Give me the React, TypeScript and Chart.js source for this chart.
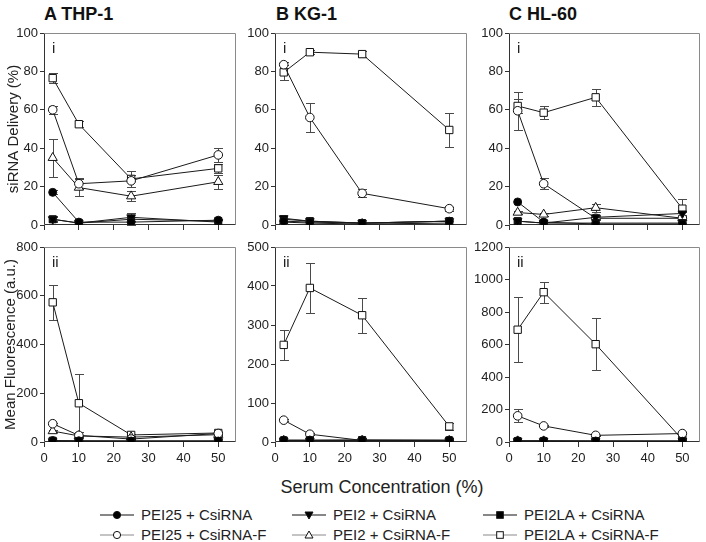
import React, { useEffect, useRef } from 'react';
import { Chart, registerables } from 'chart.js';

Chart.register(...registerables);

const FONT = "'Liberation Sans', Arial, Helvetica, sans-serif";

// ---- shared axes / categories ----
const serumConc = [2.5, 10, 25, 50];
const xTickValues = [0, 10, 20, 30, 40, 50];
const deliveryTicks = [0, 20, 40, 60, 80, 100];
const thp1FluorTicks = [0, 200, 400, 600, 800];
const kg1FluorTicks = [0, 100, 200, 300, 400, 500];
const hl60FluorTicks = [0, 200, 400, 600, 800, 1000, 1200];

const seriesLabels = [
  'PEI25 + CsiRNA',
  'PEI25 + CsiRNA-F',
  'PEI2 + CsiRNA',
  'PEI2 + CsiRNA-F',
  'PEI2LA + CsiRNA',
  'PEI2LA + CsiRNA-F',
];

// ---- A THP-1: siRNA delivery (%) ----
const thp1Del_PEI25_C = [17, 1.5, 1.5, 2.5];
const thp1Del_PEI25_C_err = [1, 0, 0, 0];
const thp1Del_PEI25_F = [60, 21.5, 23, 36.5];
const thp1Del_PEI25_F_err = [2, 3, 3, 3.5];
const thp1Del_PEI2_C = [3, 1, 4, 1.5];
const thp1Del_PEI2_C_err = [1, 0, 2, 0];
const thp1Del_PEI2_F = [35, 19.5, 15, 22.5];
const thp1Del_PEI2_F_err = [10, 4.5, 2.5, 3.5];
const thp1Del_PEI2LA_C = [3, 1, 3, 2];
const thp1Del_PEI2LA_C_err = [1.5, 0, 3.5, 0];
const thp1Del_PEI2LA_F = [76.5, 52.5, 24, 29.5];
const thp1Del_PEI2LA_F_err = [2.5, 1.5, 4, 2.5];

// ---- B KG-1: siRNA delivery (%) ----
const kg1Del_PEI25_C = [2, 1.5, 1, 2];
const kg1Del_PEI25_C_err = [0, 0, 0, 0];
const kg1Del_PEI25_F = [83.5, 56, 16.5, 8.5];
const kg1Del_PEI25_F_err = [1.5, 7.5, 2, 1];
const kg1Del_PEI2_C = [3.5, 2, 1, 2];
const kg1Del_PEI2_C_err = [0, 0, 0, 0];
const kg1Del_PEI2_F = [1.5, 1, 0.5, 1];
const kg1Del_PEI2_F_err = [0, 0, 0, 0];
const kg1Del_PEI2LA_C = [3, 2, 1, 2];
const kg1Del_PEI2LA_C_err = [0, 0, 0, 0];
const kg1Del_PEI2LA_F = [79.5, 90, 89, 49.5];
const kg1Del_PEI2LA_F_err = [4, 1, 1.5, 9];

// ---- C HL-60: siRNA delivery (%) ----
const hl60Del_PEI25_C = [12, 1.5, 0.5, 0.5];
const hl60Del_PEI25_C_err = [0, 0, 0, 0];
const hl60Del_PEI25_F = [59.5, 21.5, 3.5, 3.5];
const hl60Del_PEI25_F_err = [10, 3, 1, 1];
const hl60Del_PEI2_C = [2, 1, 4, 6];
const hl60Del_PEI2_C_err = [0, 0, 1, 1];
const hl60Del_PEI2_F = [6.5, 5.5, 9, 3.5];
const hl60Del_PEI2_F_err = [1, 1, 2, 1];
const hl60Del_PEI2LA_C = [2, 1, 1, 1];
const hl60Del_PEI2LA_C_err = [0, 0, 0, 0];
const hl60Del_PEI2LA_F = [62, 58.5, 66.5, 8.5];
const hl60Del_PEI2LA_F_err = [3.5, 3.5, 4.5, 5];

// ---- A THP-1: mean fluorescence (a.u.) ----
const thp1Fl_PEI25_C = [6, 5, 4, 4];
const thp1Fl_PEI25_C_err = [0, 0, 0, 0];
const thp1Fl_PEI25_F = [75, 27, 12, 35];
const thp1Fl_PEI25_F_err = [5, 3, 2, 3];
const thp1Fl_PEI2_C = [3, 3, 3, 3];
const thp1Fl_PEI2_C_err = [0, 0, 0, 0];
const thp1Fl_PEI2_F = [45, 25, 20, 30];
const thp1Fl_PEI2_F_err = [4, 3, 2, 3];
const thp1Fl_PEI2LA_C = [5, 4, 4, 4];
const thp1Fl_PEI2LA_C_err = [0, 0, 0, 0];
const thp1Fl_PEI2LA_F = [573, 159, 29, 37];
const thp1Fl_PEI2LA_F_err = [72, 120, 5, 5];

// ---- B KG-1: mean fluorescence (a.u.) ----
const kg1Fl_PEI25_C = [5, 5, 5, 5];
const kg1Fl_PEI25_C_err = [0, 0, 0, 0];
const kg1Fl_PEI25_F = [56, 20, 4, 3];
const kg1Fl_PEI25_F_err = [3, 2, 1, 1];
const kg1Fl_PEI2_C = [3, 3, 3, 3];
const kg1Fl_PEI2_C_err = [0, 0, 0, 0];
const kg1Fl_PEI2_F = [3, 3, 3, 3];
const kg1Fl_PEI2_F_err = [0, 0, 0, 0];
const kg1Fl_PEI2LA_C = [4, 4, 5, 4];
const kg1Fl_PEI2LA_C_err = [0, 0, 0, 0];
const kg1Fl_PEI2LA_F = [249, 395, 325, 40];
const kg1Fl_PEI2LA_F_err = [38, 65, 45, 10];

// ---- C HL-60: mean fluorescence (a.u.) ----
const hl60Fl_PEI25_C = [8, 8, 6, 5];
const hl60Fl_PEI25_C_err = [0, 0, 0, 0];
const hl60Fl_PEI25_F = [161, 99, 41, 52];
const hl60Fl_PEI25_F_err = [40, 5, 5, 5];
const hl60Fl_PEI2_C = [5, 5, 5, 5];
const hl60Fl_PEI2_C_err = [0, 0, 0, 0];
const hl60Fl_PEI2_F = [5, 5, 5, 5];
const hl60Fl_PEI2_F_err = [0, 0, 0, 0];
const hl60Fl_PEI2LA_C = [5, 5, 5, 5];
const hl60Fl_PEI2LA_C_err = [0, 0, 0, 0];
const hl60Fl_PEI2LA_F = [691, 922, 602, 15];
const hl60Fl_PEI2LA_F_err = [200, 65, 160, 10];

// ---- marker styles per series ----
const seriesStyles = [
  { pointStyle: 'circle', radius: 4, fill: '#000000', rotation: 0 },
  { pointStyle: 'circle', radius: 4.3, fill: '#ffffff', rotation: 0 },
  { pointStyle: 'triangle', radius: 5, fill: '#000000', rotation: 180 },
  { pointStyle: 'triangle', radius: 5.3, fill: '#ffffff', rotation: 0 },
  { pointStyle: 'rect', radius: 5, fill: '#000000', rotation: 0 },
  { pointStyle: 'rect', radius: 5.2, fill: '#ffffff', rotation: 0 },
];

type PanelDef = {
  key: string;
  left: number;
  top: number;
  width: number;
  height: number;
  axisWidth: number;
  xAxisHeight: number;
  yMax: number;
  yTicks: number[];
  series: number[][];
  errors: number[][];
  label: string;
  yTitle?: string;
  yTitlePad?: number;
  showXLabels: boolean;
};

const TOP_ROW = { top: 23, height: 216, xAxisHeight: 14 };
const BOTTOM_ROW = { top: 237, height: 231, xAxisHeight: 26 };

const panels: PanelDef[] = [
  {
    key: 'a1', left: 0, width: 242, axisWidth: 44, ...TOP_ROW,
    yMax: 100, yTicks: deliveryTicks, label: 'i', yTitle: 'siRNA Delivery (%)', yTitlePad: 5, showXLabels: false,
    series: [thp1Del_PEI25_C, thp1Del_PEI25_F, thp1Del_PEI2_C, thp1Del_PEI2_F, thp1Del_PEI2LA_C, thp1Del_PEI2LA_F],
    errors: [thp1Del_PEI25_C_err, thp1Del_PEI25_F_err, thp1Del_PEI2_C_err, thp1Del_PEI2_F_err, thp1Del_PEI2LA_C_err, thp1Del_PEI2LA_F_err],
  },
  {
    key: 'b1', left: 233, width: 240, axisWidth: 42, ...TOP_ROW,
    yMax: 100, yTicks: deliveryTicks, label: 'i', showXLabels: false,
    series: [kg1Del_PEI25_C, kg1Del_PEI25_F, kg1Del_PEI2_C, kg1Del_PEI2_F, kg1Del_PEI2LA_C, kg1Del_PEI2LA_F],
    errors: [kg1Del_PEI25_C_err, kg1Del_PEI25_F_err, kg1Del_PEI2_C_err, kg1Del_PEI2_F_err, kg1Del_PEI2LA_C_err, kg1Del_PEI2LA_F_err],
  },
  {
    key: 'c1', left: 467, width: 239, axisWidth: 42, ...TOP_ROW,
    yMax: 100, yTicks: deliveryTicks, label: 'i', showXLabels: false,
    series: [hl60Del_PEI25_C, hl60Del_PEI25_F, hl60Del_PEI2_C, hl60Del_PEI2_F, hl60Del_PEI2LA_C, hl60Del_PEI2LA_F],
    errors: [hl60Del_PEI25_C_err, hl60Del_PEI25_F_err, hl60Del_PEI2_C_err, hl60Del_PEI2_F_err, hl60Del_PEI2LA_C_err, hl60Del_PEI2LA_F_err],
  },
  {
    key: 'a2', left: 0, width: 242, axisWidth: 44, ...BOTTOM_ROW,
    yMax: 800, yTicks: thp1FluorTicks, label: 'ii', yTitle: 'Mean Fluorescence (a.u.)', yTitlePad: 2, showXLabels: true,
    series: [thp1Fl_PEI25_C, thp1Fl_PEI25_F, thp1Fl_PEI2_C, thp1Fl_PEI2_F, thp1Fl_PEI2LA_C, thp1Fl_PEI2LA_F],
    errors: [thp1Fl_PEI25_C_err, thp1Fl_PEI25_F_err, thp1Fl_PEI2_C_err, thp1Fl_PEI2_F_err, thp1Fl_PEI2LA_C_err, thp1Fl_PEI2LA_F_err],
  },
  {
    key: 'b2', left: 233, width: 240, axisWidth: 42, ...BOTTOM_ROW,
    yMax: 500, yTicks: kg1FluorTicks, label: 'ii', showXLabels: true,
    series: [kg1Fl_PEI25_C, kg1Fl_PEI25_F, kg1Fl_PEI2_C, kg1Fl_PEI2_F, kg1Fl_PEI2LA_C, kg1Fl_PEI2LA_F],
    errors: [kg1Fl_PEI25_C_err, kg1Fl_PEI25_F_err, kg1Fl_PEI2_C_err, kg1Fl_PEI2_F_err, kg1Fl_PEI2LA_C_err, kg1Fl_PEI2LA_F_err],
  },
  {
    key: 'c2', left: 467, width: 239, axisWidth: 42, ...BOTTOM_ROW,
    yMax: 1200, yTicks: hl60FluorTicks, label: 'ii', showXLabels: true,
    series: [hl60Fl_PEI25_C, hl60Fl_PEI25_F, hl60Fl_PEI2_C, hl60Fl_PEI2_F, hl60Fl_PEI2LA_C, hl60Fl_PEI2LA_F],
    errors: [hl60Fl_PEI25_C_err, hl60Fl_PEI25_F_err, hl60Fl_PEI2_C_err, hl60Fl_PEI2_F_err, hl60Fl_PEI2LA_C_err, hl60Fl_PEI2LA_F_err],
  },
];

const panelTitles = [
  { text: 'A THP-1', left: 44 },
  { text: 'B KG-1', left: 276 },
  { text: 'C HL-60', left: 509 },
];

// ---- plugins ----
const frameColorDark = '#333333';
const frameColorLight = '#8a8a8a';

const framePlugin = {
  id: 'panelFrame',
  beforeDatasetsDraw(chart: any) {
    const { ctx, chartArea } = chart;
    const l = Math.round(chartArea.left) + 0.5;
    const r = Math.round(chartArea.right) - 0.5;
    const t = Math.round(chartArea.top) + 0.5;
    const b = Math.round(chartArea.bottom) - 0.5;
    ctx.save();
    ctx.lineWidth = 1;
    ctx.strokeStyle = frameColorLight;
    ctx.beginPath();
    ctx.moveTo(l, t);
    ctx.lineTo(r, t);
    ctx.lineTo(r, b);
    ctx.stroke();
    ctx.strokeStyle = frameColorDark;
    ctx.beginPath();
    ctx.moveTo(l, t);
    ctx.lineTo(l, b);
    ctx.lineTo(r, b);
    ctx.stroke();
    ctx.restore();
  },
};

const errorBarPlugin = {
  id: 'errorBars',
  beforeDatasetsDraw(chart: any) {
    const { ctx } = chart;
    const yScale = chart.scales.y;
    ctx.save();
    ctx.lineWidth = 1;
    ctx.strokeStyle = '#4a4a4a';
    chart.data.datasets.forEach((ds: any, i: number) => {
      const meta = chart.getDatasetMeta(i);
      const errs: number[] = ds.errorBars || [];
      meta.data.forEach((pt: any, j: number) => {
        const e = errs[j];
        if (!e) return;
        const v = ds.data[j].y;
        const x = Math.round(pt.x) + 0.5;
        const yTop = Math.round(yScale.getPixelForValue(v + e)) + 0.5;
        const yBot = Math.round(yScale.getPixelForValue(Math.max(v - e, yScale.min))) + 0.5;
        const cap = 4.5;
        ctx.beginPath();
        ctx.moveTo(x, yTop);
        ctx.lineTo(x, yBot);
        ctx.moveTo(x - cap, yTop);
        ctx.lineTo(x + cap, yTop);
        ctx.moveTo(x - cap, yBot);
        ctx.lineTo(x + cap, yBot);
        ctx.stroke();
      });
    });
    ctx.restore();
  },
};

const panelLabelPlugin = {
  id: 'panelLabel',
  afterDatasetsDraw(chart: any, _args: any, opts: any) {
    const { ctx, chartArea } = chart;
    ctx.save();
    ctx.font = `15px ${FONT}`;
    ctx.fillStyle = '#222222';
    ctx.textAlign = 'left';
    ctx.textBaseline = 'alphabetic';
    ctx.fillText(opts.text, chartArea.left + 8, chartArea.top + 20);
    ctx.restore();
  },
};

const plainNumber = (v: any) => String(v);

function PanelChart({ def }: { def: PanelDef }) {
  const ref = useRef<HTMLCanvasElement>(null);
  useEffect(() => {
    if (!ref.current) return;
    const chart = new Chart(ref.current, {
      type: 'line',
      data: {
        datasets: def.series.map((vals, i) => {
          const st = seriesStyles[i];
          return {
            label: seriesLabels[i],
            data: vals.map((v, j) => ({ x: serumConc[j], y: v })),
            errorBars: def.errors[i],
            borderColor: '#1a1a1a',
            borderWidth: 1,
            fill: false,
            tension: 0,
            pointStyle: st.pointStyle,
            pointRadius: st.radius,
            pointRotation: st.rotation,
            pointBackgroundColor: st.fill,
            pointBorderColor: '#111111',
            pointBorderWidth: 1,
            order: i % 2 === 0 ? 0 : 1,
          } as any;
        }),
      },
      options: {
        animation: false,
        responsive: false,
        devicePixelRatio: 1,
        layout: { padding: { top: 10, right: 3, left: 0, bottom: 0 } },
        plugins: {
          legend: { display: false },
          tooltip: { enabled: false },
          panelLabel: { text: def.label },
        } as any,
        scales: {
          x: {
            type: 'linear',
            min: 0,
            max: 55,
            afterBuildTicks: (s: any) => {
              s.ticks = xTickValues.map((v) => ({ value: v }));
            },
            afterFit: (s: any) => {
              s.height = def.xAxisHeight;
            },
            grid: { drawOnChartArea: false, drawTicks: true, tickLength: 5, color: frameColorDark },
            border: { display: false },
            ticks: {
              display: def.showXLabels,
              font: { family: FONT, size: 13 },
              color: '#222222',
              padding: 4,
              maxRotation: 0,
              autoSkip: false,
              callback: plainNumber,
            },
          },
          y: {
            type: 'linear',
            min: 0,
            max: def.yMax,
            afterBuildTicks: (s: any) => {
              s.ticks = def.yTicks.map((v) => ({ value: v }));
            },
            afterFit: (s: any) => {
              s.width = def.axisWidth;
            },
            grid: { drawOnChartArea: false, drawTicks: true, tickLength: 4, color: frameColorDark },
            border: { display: false },
            ticks: {
              font: { family: FONT, size: 13 },
              color: '#222222',
              padding: 2,
              callback: plainNumber,
            },
            title: def.yTitle
              ? {
                  display: true,
                  text: def.yTitle,
                  font: { family: FONT, size: 15 },
                  color: '#222222',
                  padding: { top: def.yTitlePad ?? 4, bottom: 0 },
                }
              : { display: false },
          },
        } as any,
      },
      plugins: [framePlugin, errorBarPlugin, panelLabelPlugin],
    } as any);
    return () => chart.destroy();
  }, [def]);
  return (
    <canvas
      ref={ref}
      width={def.width}
      height={def.height}
      style={{ position: 'absolute', left: def.left, top: def.top, width: def.width, height: def.height }}
    />
  );
}

const legendIconLeft = [100, 292, 483];
const legendTextLeft = [141, 333, 524];
const legendRowCenter = [515, 534.5];

function LegendMarker({ i }: { i: number }) {
  const st = seriesStyles[i];
  const cx = 17;
  const cy = 7;
  const stroke = '#111111';
  if (st.pointStyle === 'circle') {
    return <circle cx={cx} cy={cy} r={3.6} fill={st.fill} stroke={stroke} strokeWidth={1} />;
  }
  if (st.pointStyle === 'rect') {
    return <rect x={cx - 3.3} y={cy - 3.3} width={6.6} height={6.6} fill={st.fill} stroke={stroke} strokeWidth={1} />;
  }
  const pts = st.rotation === 180
    ? `${cx - 4},${cy - 3} ${cx + 4},${cy - 3} ${cx},${cy + 4}`
    : `${cx - 4},${cy + 3} ${cx + 4},${cy + 3} ${cx},${cy - 4}`;
  return <polygon points={pts} fill={st.fill} stroke={stroke} strokeWidth={1} />;
}

export default function App() {
  return (
    <div
      style={{
        position: 'fixed',
        left: 0,
        top: 0,
        width: 706,
        height: 542,
        background: '#ffffff',
        overflow: 'hidden',
        fontFamily: FONT,
        color: '#111111',
      }}
    >
      {panelTitles.map((t) => (
        <div
          key={t.text}
          style={{ position: 'absolute', left: t.left, top: 5, fontSize: 18, lineHeight: '18px', fontWeight: 'bold', whiteSpace: 'nowrap' }}
        >
          {t.text}
        </div>
      ))}
      {panels.map((p) => (
        <PanelChart key={p.key} def={p} />
      ))}
      <div
        style={{ position: 'absolute', left: 232, width: 300, top: 477, textAlign: 'center', fontSize: 18, lineHeight: '20px', color: '#222' }}
      >
        Serum Concentration (%)
      </div>
      {seriesLabels.map((lab, i) => {
        const col = Math.floor(i / 2);
        const row = i % 2;
        const lineColor = row === 0 ? '#111111' : '#8a8a8a';
        return (
          <React.Fragment key={lab}>
            <svg
              width={34}
              height={14}
              style={{ position: 'absolute', left: legendIconLeft[col], top: legendRowCenter[row] - 7 }}
            >
              <line x1={0} y1={7} x2={34} y2={7} stroke={lineColor} strokeWidth={1.2} />
              <LegendMarker i={i} />
            </svg>
            <div
              style={{
                position: 'absolute',
                left: legendTextLeft[col],
                top: legendRowCenter[row] - 10,
                fontSize: 15,
                lineHeight: '20px',
                whiteSpace: 'nowrap',
                color: '#222',
              }}
            >
              {lab}
            </div>
          </React.Fragment>
        );
      })}
    </div>
  );
}
